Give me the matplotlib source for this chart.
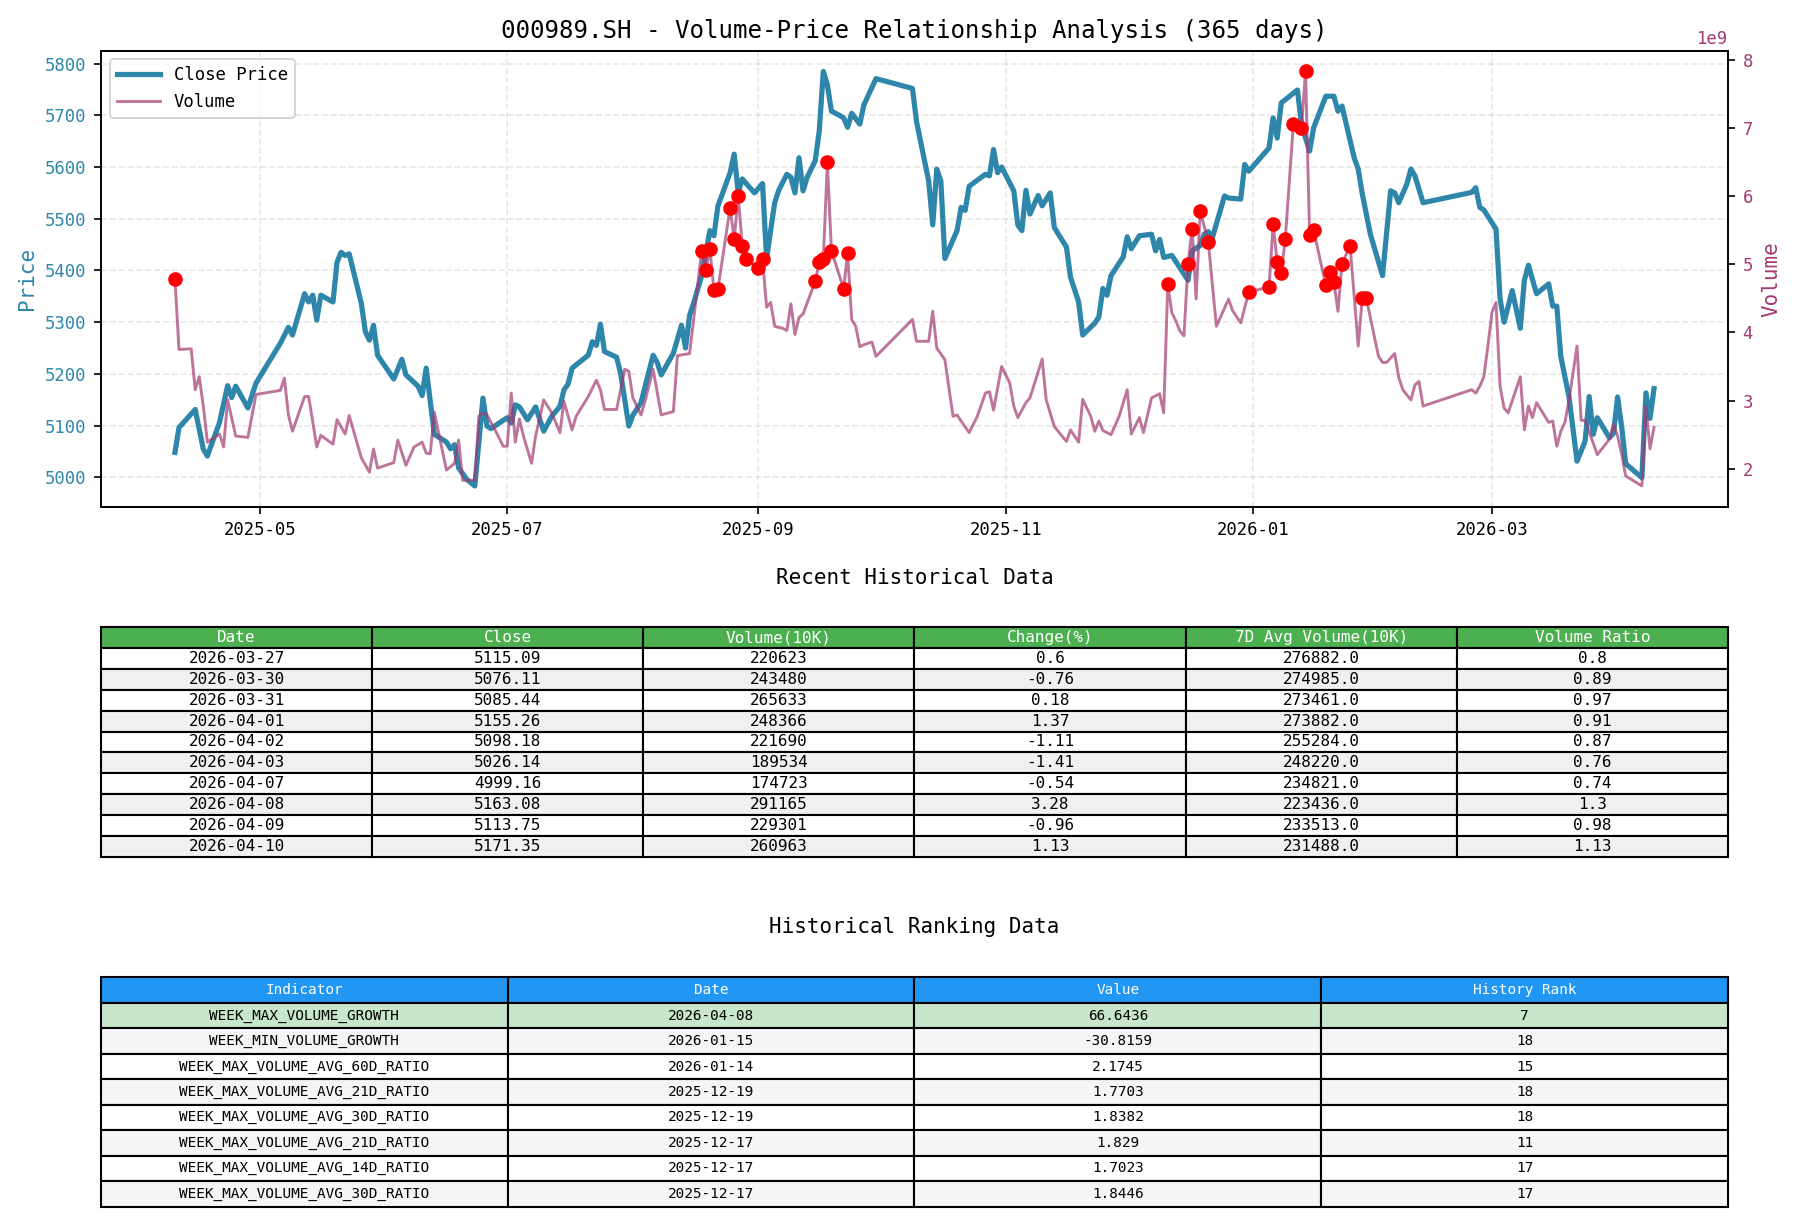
import matplotlib
matplotlib.use('Agg')
import matplotlib.pyplot as plt
import matplotlib.dates as mdates
from matplotlib.ticker import MultipleLocator
import pandas as pd

plt.rcParams['font.family'] = ['DejaVu Sans Mono']

START = pd.Timestamp('2025-04-10')

# close price: days since START, value
price_days = [0, 1, 5, 7, 8, 11, 13, 14, 15, 18, 20, 26, 28, 29, 32, 33, 34, 35, 36, 39,
              40, 41, 42, 43, 46, 47, 48, 49, 50, 54, 56, 57, 60, 61, 62, 64, 67, 68, 69, 70,
              72, 74, 76, 77, 78, 81, 82, 83, 84, 85, 87, 89, 91, 93, 95, 96, 97, 98, 102, 103,
              104, 105, 106, 109, 110, 112, 113, 115, 118, 119, 120, 123, 125, 126, 127, 128, 130, 132, 133, 134,
              137, 138, 139, 140, 143, 145, 146, 148, 149, 151, 152, 153, 154, 155, 156, 158, 159, 160, 161, 162,
              164, 165, 166, 167, 169, 170, 173, 182, 183, 186, 187, 188, 189, 190, 193, 194, 195, 196, 200, 201,
              202, 203, 204, 207, 208, 209, 210, 211, 213, 214, 216, 217, 220, 221, 223, 224, 227, 228, 229, 230,
              231, 234, 235, 236, 238, 241, 242, 243, 244, 246, 250, 251, 253, 254, 255, 256, 259, 260, 263, 264,
              265, 270, 271, 272, 273, 277, 278, 279, 280, 281, 284, 286, 287, 288, 291, 292, 293, 295, 298, 300,
              301, 302, 304, 305, 306, 308, 320, 321, 322, 323, 326, 327, 328, 330, 332, 333, 334, 336, 339, 340,
              341, 342, 344, 346, 348, 349, 350]
price_vals = [5048, 5096, 5131, 5054, 5041, 5106, 5177, 5154, 5176, 5134, 5182, 5259, 5290, 5275, 5355, 5339, 5352, 5304, 5352, 5339,
              5416, 5435, 5429, 5432, 5336, 5281, 5265, 5294, 5236, 5190, 5228, 5198, 5176, 5158, 5211, 5083, 5068, 5055, 5063, 5018,
              4996, 4983, 5153, 5099, 5094, 5110, 5115, 5105, 5140, 5136, 5111, 5136, 5089, 5118, 5137, 5169, 5180, 5211, 5236, 5262,
              5255, 5296, 5243, 5232, 5200, 5099, 5120, 5144, 5236, 5222, 5198, 5240, 5294, 5250, 5313, 5337, 5390, 5477, 5467, 5525,
              5589, 5625, 5551, 5577, 5550, 5568, 5423, 5531, 5555, 5586, 5580, 5550, 5618, 5554, 5580, 5612, 5670, 5785, 5759, 5708,
              5700, 5695, 5677, 5704, 5683, 5720, 5771, 5752, 5688, 5573, 5488, 5596, 5573, 5423, 5477, 5522, 5516, 5563, 5586, 5583,
              5634, 5589, 5600, 5554, 5488, 5477, 5555, 5509, 5545, 5525, 5550, 5483, 5445, 5387, 5339, 5275, 5298, 5310, 5365, 5352,
              5390, 5426, 5465, 5442, 5467, 5470, 5438, 5460, 5425, 5429, 5381, 5438, 5448, 5470, 5475, 5463, 5544, 5540, 5538, 5605,
              5592, 5637, 5695, 5656, 5724, 5749, 5682, 5656, 5631, 5676, 5737, 5737, 5708, 5718, 5618, 5596, 5548, 5470, 5390, 5554,
              5550, 5531, 5567, 5596, 5583, 5531, 5551, 5560, 5522, 5517, 5480, 5345, 5300, 5361, 5288, 5381, 5410, 5355, 5374, 5331,
              5331, 5233, 5156, 5031, 5070, 5156, 5083]

# volume (1e9): days since START, value
volume_days = [0, 1, 4, 5, 6, 7, 8, 11, 12, 13, 15, 18, 20, 26, 27, 28, 29, 32, 33, 35,
               36, 39, 40, 42, 43, 46, 48, 49, 50, 54, 55, 57, 59, 61, 62, 63, 64, 67, 69, 70,
               71, 73, 74, 75, 76, 77, 79, 81, 82, 83, 84, 85, 86, 88, 89, 91, 93, 95, 96, 98,
               99, 102, 104, 105, 106, 109, 111, 112, 113, 115, 116, 118, 120, 123, 124, 127, 128, 130, 131, 132,
               133, 134, 137, 138, 139, 140, 141, 144, 145, 146, 147, 148, 150, 151, 152, 153, 154, 155, 158, 159,
               160, 161, 162, 165, 166, 167, 168, 169, 170, 172, 173, 182, 183, 186, 187, 188, 190, 192, 193, 194,
               196, 198, 200, 201, 202, 204, 206, 207, 208, 210, 211, 214, 215, 217, 220, 221, 223, 224, 226, 227,
               228, 229, 231, 233, 235, 236, 238, 239, 241, 243, 244, 245, 246, 247, 248, 249, 250, 251, 252, 253,
               255, 257, 260, 261, 263, 265, 270, 271, 272, 273, 274, 276, 278, 279, 280, 281, 284, 285, 286, 287,
               288, 290, 292, 293, 294, 297, 298, 299, 301, 302, 303, 305, 306, 307, 308, 320, 321, 322, 323, 324,
               325, 326, 327, 328, 329, 332, 333, 334, 335, 336, 339, 340, 341, 342, 343, 344, 346, 347, 348]
volume_vals = [4.79, 3.75, 3.76, 3.16, 3.35, 2.92, 2.39, 2.51, 2.32, 3.01, 2.48, 2.46, 3.09, 3.15, 3.33, 2.79, 2.55, 3.06, 3.06, 2.32,
               2.49, 2.36, 2.72, 2.51, 2.78, 2.16, 1.95, 2.29, 2.01, 2.09, 2.42, 2.05, 2.32, 2.39, 2.23, 2.22, 2.83, 1.98, 2.08, 2.42,
               1.83, 1.83, 1.83, 2.77, 2.82, 2.79, 2.57, 2.33, 2.33, 3.11, 2.39, 2.73, 2.48, 2.08, 2.48, 3.01, 2.82, 2.53, 2.99, 2.57,
               2.77, 3.06, 3.30, 3.16, 2.87, 2.87, 3.46, 3.43, 3.04, 2.79, 2.99, 3.46, 2.79, 2.84, 3.66, 3.69, 4.19, 5.20, 4.92, 5.23,
               4.62, 4.64, 5.83, 5.37, 6.00, 5.27, 5.08, 4.94, 5.08, 4.37, 4.44, 4.09, 4.06, 4.03, 4.42, 3.97, 4.22, 4.27, 4.75, 5.03,
               5.08, 6.50, 5.20, 4.64, 5.16, 4.19, 4.09, 3.79, 3.82, 3.86, 3.65, 4.19, 3.87, 3.87, 4.31, 3.77, 3.60, 2.77, 2.79, 2.70,
               2.53, 2.77, 3.11, 3.13, 2.86, 3.50, 3.26, 2.92, 2.75, 2.97, 3.04, 3.61, 3.01, 2.62, 2.40, 2.57, 2.39, 3.02, 2.77, 2.55,
               2.70, 2.56, 2.50, 2.77, 3.16, 2.51, 2.75, 2.53, 3.04, 3.10, 2.82, 4.71, 4.29, 4.17, 4.02, 3.95, 5.01, 5.52, 4.49, 5.78,
               5.33, 4.09, 4.49, 4.32, 4.14, 4.59, 4.67, 5.59, 5.03, 4.87, 5.37, 7.06, 7.00, 7.83, 5.43, 5.50, 4.69, 4.89, 4.74, 4.31,
               5.01, 5.27, 3.80, 4.51, 4.50, 3.65, 3.56, 3.56, 3.69, 3.34, 3.16, 3.01, 3.23, 3.28, 2.92, 3.16, 3.11, 3.21, 3.35, 3.80,
               4.29, 4.44, 3.21, 2.89, 2.82, 3.35, 2.57, 2.92, 2.75, 2.97, 2.68, 2.70, 2.33, 2.55, 2.68, 3.00, 3.80, 2.71, 2.71]

# days flagged as volume spikes (red dots)
spike_days = [0, 130, 131, 132, 133, 134, 137, 138, 139, 140, 141, 144, 145, 158, 159, 160, 161, 162, 165, 166,
              245, 250, 251, 253, 255, 265, 270, 271, 272, 273, 274, 276, 278, 279, 280, 281, 284, 285, 286, 288,
              290, 293, 294]

# recent history table
recent_dates = ['2026-03-27', '2026-03-30', '2026-03-31', '2026-04-01', '2026-04-02',
                '2026-04-03', '2026-04-07', '2026-04-08', '2026-04-09', '2026-04-10']
recent_close = [5115.09, 5076.11, 5085.44, 5155.26, 5098.18, 5026.14, 4999.16, 5163.08, 5113.75, 5171.35]
recent_volume = [220623, 243480, 265633, 248366, 221690, 189534, 174723, 291165, 229301, 260963]  # 10K
recent_change = [0.6, -0.76, 0.18, 1.37, -1.11, -1.41, -0.54, 3.28, -0.96, 1.13]
recent_avg7 = [276882.0, 274985.0, 273461.0, 273882.0, 255284.0, 248220.0, 234821.0, 223436.0, 233513.0, 231488.0]
recent_ratio = [0.8, 0.89, 0.97, 0.91, 0.87, 0.76, 0.74, 1.3, 0.98, 1.13]

# ranking table
rank_indicators = ['WEEK_MAX_VOLUME_GROWTH', 'WEEK_MIN_VOLUME_GROWTH', 'WEEK_MAX_VOLUME_AVG_60D_RATIO',
                   'WEEK_MAX_VOLUME_AVG_21D_RATIO', 'WEEK_MAX_VOLUME_AVG_30D_RATIO', 'WEEK_MAX_VOLUME_AVG_21D_RATIO',
                   'WEEK_MAX_VOLUME_AVG_14D_RATIO', 'WEEK_MAX_VOLUME_AVG_30D_RATIO']
rank_dates = ['2026-04-08', '2026-01-15', '2026-01-14', '2025-12-19', '2025-12-19', '2025-12-17', '2025-12-17', '2025-12-17']
rank_values = [66.6436, -30.8159, 2.1745, 1.7703, 1.8382, 1.829, 1.7023, 1.8446]
rank_positions = [7, 18, 15, 18, 18, 11, 17, 17]

PRICE_COLOR = '#2E86AB'
VOL_COLOR = '#A23B72'

# full series = chart readings + table rows
p_dates = list(START + pd.to_timedelta(price_days, unit='D')) + list(pd.to_datetime(recent_dates))
p_vals = price_vals + recent_close
v_dates = list(START + pd.to_timedelta(volume_days, unit='D')) + list(pd.to_datetime(recent_dates))
v_vals = [v * 1e9 for v in volume_vals] + [v * 1e4 for v in recent_volume]
vol_series = pd.Series(v_vals, index=v_dates)
spikes = vol_series.loc[list(START + pd.to_timedelta(spike_days, unit='D'))]

fig = plt.figure(figsize=(1797 / 150, 1221 / 150), dpi=150)

ax = fig.add_axes([0.0562, 0.5850, 0.9054, 0.3735])
l1, = ax.plot(p_dates, p_vals, color=PRICE_COLOR, linewidth=2.5, label='Close Price')
ax.set_ylabel('Price', color=PRICE_COLOR, fontsize=10)
ax.tick_params(axis='y', labelcolor=PRICE_COLOR, labelsize=8.3)
ax.tick_params(axis='x', labelsize=8.3)
ax.yaxis.set_major_locator(MultipleLocator(100))
ax.grid(True, linestyle='--', alpha=0.3)
ax.xaxis.set_major_locator(mdates.MonthLocator(bymonth=[1, 3, 5, 7, 9, 11]))
ax.xaxis.set_major_formatter(mdates.DateFormatter('%Y-%m'))

ax2 = ax.twinx()
l2, = ax2.plot(vol_series.index, vol_series.values, color=VOL_COLOR, alpha=0.7, linewidth=1.4, label='Volume')
ax2.scatter(spikes.index, spikes.values, color='red', s=36, zorder=5)
ax2.set_ylabel('Volume', color=VOL_COLOR, fontsize=10)
ax2.tick_params(axis='y', labelcolor=VOL_COLOR, labelsize=8.3)
ax2.yaxis.set_major_locator(MultipleLocator(1e9))
ax2.yaxis.get_offset_text().set_color(VOL_COLOR)
ax2.yaxis.get_offset_text().set_fontsize(8.3)

ax.legend([l1, l2], ['Close Price', 'Volume'], loc='upper left', fontsize=8.3, handlelength=2.5)
ax.set_title('000989.SH - Volume-Price Relationship Analysis (365 days)', fontsize=11.6)

# recent data table
fig.text(0.5089, 0.5266, 'Recent Historical Data', ha='center', va='center', fontsize=10)
ax_t1 = fig.add_axes([0.0562, 0.2984, 0.9054, 0.1879])
ax_t1.axis('off')
rows1 = [[d, str(c), str(v), str(ch), str(a), str(r)]
         for d, c, v, ch, a, r in zip(recent_dates, recent_close, recent_volume, recent_change, recent_avg7, recent_ratio)]
cols1 = ['Date', 'Close', 'Volume(10K)', 'Change(%)', '7D Avg Volume(10K)', 'Volume Ratio']
t1 = ax_t1.table(cellText=rows1, colLabels=cols1, cellLoc='center', bbox=[0, 0, 1, 1])
t1.auto_set_font_size(False)
t1.set_fontsize(7.7)
for (r, c), cell in t1.get_celld().items():
    if r == 0:
        cell.set_facecolor('#4CAF50')
        cell.get_text().set_color('white')
    elif r % 2 == 0:
        cell.set_facecolor('#f0f0f0')

# ranking table
fig.text(0.5089, 0.2410, 'Historical Ranking Data', ha='center', va='center', fontsize=10)
ax_t2 = fig.add_axes([0.0562, 0.0117, 0.9054, 0.1879])
ax_t2.axis('off')
rows2 = [[i, d, str(v), str(p)] for i, d, v, p in zip(rank_indicators, rank_dates, rank_values, rank_positions)]
cols2 = ['Indicator', 'Date', 'Value', 'History Rank']
t2 = ax_t2.table(cellText=rows2, colLabels=cols2, cellLoc='center', bbox=[0, 0, 1, 1])
t2.auto_set_font_size(False)
t2.set_fontsize(6.9)
for (r, c), cell in t2.get_celld().items():
    if r == 0:
        cell.set_facecolor('#2196F3')
        cell.get_text().set_color('white')
    elif r == 1:
        cell.set_facecolor('#C8E6C9')
    elif r % 2 == 0:
        cell.set_facecolor('#f5f5f5')

fig.savefig('out.png', dpi=150)
plt.close(fig)
